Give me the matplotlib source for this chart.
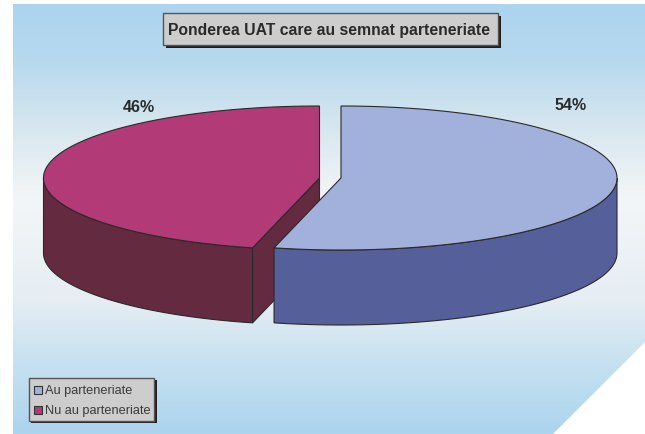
import numpy as np
import matplotlib
matplotlib.use("Agg")
import matplotlib.pyplot as plt
from matplotlib.patches import Polygon, Rectangle

title = "Ponderea UAT care au semnat parteneriate"
labels = ["Au parteneriate", "Nu au parteneriate"]
values = [53.9, 46.1]
pct_labels = ["54%", "46%"]

plt.rcParams["font.family"] = ["Liberation Sans", "DejaVu Sans"]

fig = plt.figure(figsize=(6.45, 4.35), dpi=100)
ax = fig.add_axes([0, 0, 1, 1])
ax.set_xlim(0, 645)
ax.set_ylim(435, 0)
ax.axis("off")

# background, blue - pale - blue, with the lower right corner cut off
stops_y = [5, 60, 120, 200, 300, 370, 435]
stops_r = [0xAC, 0xB6, 0xD3, 0xF3, 0xE6, 0xC4, 0xAC]
stops_g = [0xD4, 0xD9, 0xE5, 0xF6, 0xEE, 0xE0, 0xD4]
stops_b = [0xEE, 0xEF, 0xEE, 0xF8, 0xF3, 0xF0, 0xEE]
yy = np.arange(5, 436)
grad = np.stack([np.interp(yy, stops_y, s) / 255 for s in (stops_r, stops_g, stops_b)], axis=1)
im = ax.imshow(grad[:, None, :], extent=(13, 645, 435, 5), aspect="auto", zorder=0)
ax.set_xlim(0, 645)
ax.set_ylim(435, 0)
clip = Polygon([(13, 5), (645, 5), (645, 343), (553, 435), (13, 435)], transform=ax.transData, fc="none", ec="none")
ax.add_patch(clip)
im.set_clip_path(clip)

# pie geometry
a = 276
b = 72
depth = 75
top_y = 179
centers = [341, 319.5]
top_cols = ["#A2B1DC", "#B23A76"]
side_cols = ["#555F99", "#632A40"]
edge = "#2A2A2A"


def pt(cx, t):
    return cx + a * np.sin(t), top_y - b * np.cos(t)


fracs = np.array(values) / sum(values)
split = 2 * np.pi * fracs[0]


def arc(cx, t0, t1):
    t = np.linspace(t0, t1, 200)
    x, y = pt(cx, t)
    return np.column_stack([x, y])


def wall(cx, t0, t1, col, z):
    top = arc(cx, t0, t1)
    low = top[::-1] + [0, depth]
    ax.add_patch(Polygon(np.vstack([top, low]), closed=True, fc=col, ec=edge, lw=0.8, zorder=z))


# red slice first, it sits behind the blue one
red_cx = centers[1]
wall(red_cx, split, 1.5 * np.pi, side_cols[1], 2)
tip = np.array(pt(red_cx, split))
apex = np.array([red_cx, top_y])
cut = np.array([apex, tip, tip + [0, depth], apex + [0, depth]])
ax.add_patch(Polygon(cut, closed=True, fc=side_cols[1], ec=edge, lw=0.8, zorder=2))
red_top = np.vstack([[apex], arc(red_cx, split, 2 * np.pi)])
ax.add_patch(Polygon(red_top, closed=True, fc=top_cols[1], ec=edge, lw=0.8, zorder=3))

# blue slice
blue_cx = centers[0]
wall(blue_cx, np.pi / 2, split, side_cols[0], 4)
blue_top = np.vstack([[[blue_cx, top_y]], arc(blue_cx, 0, split)])
ax.add_patch(Polygon(blue_top, closed=True, fc=top_cols[0], ec=edge, lw=0.8, zorder=5))

# percent labels
ax.text(571, 105, pct_labels[0], ha="center", va="center", fontsize=11.5, fontweight="bold", color="#2A2A2A", zorder=6)
ax.text(139, 108, pct_labels[1], ha="center", va="center", fontsize=11.5, fontweight="bold", color="#2A2A2A", zorder=6)

# title box with shadow
ax.add_patch(Rectangle((166, 17), 335, 32, fc="#231F20", ec="none", zorder=6))
ax.add_patch(Rectangle((163, 14), 335, 32, fc="#CDCDCD", ec="#555555", lw=1, zorder=7))
ax.text(329.5, 30, title, ha="center", va="center", fontsize=11.35, fontweight="bold", color="#2A2A2A", zorder=8)

# legend box with shadow
ax.add_patch(Rectangle((31, 381), 126, 43, fc="#231F20", ec="none", zorder=6))
ax.add_patch(Rectangle((28.5, 379), 125.5, 43, fc="#CDCDCD", ec="#555555", lw=1, zorder=7))
for lab, col, y in zip(labels, top_cols, [391, 411]):
    ax.add_patch(Rectangle((34, y - 4), 8, 8, fc=col, ec="#333333", lw=0.8, zorder=8))
    ax.text(45, y, lab, ha="left", va="center", fontsize=9.2, color="#3A3A3A", zorder=8)

fig.savefig("out.png", dpi=100)
